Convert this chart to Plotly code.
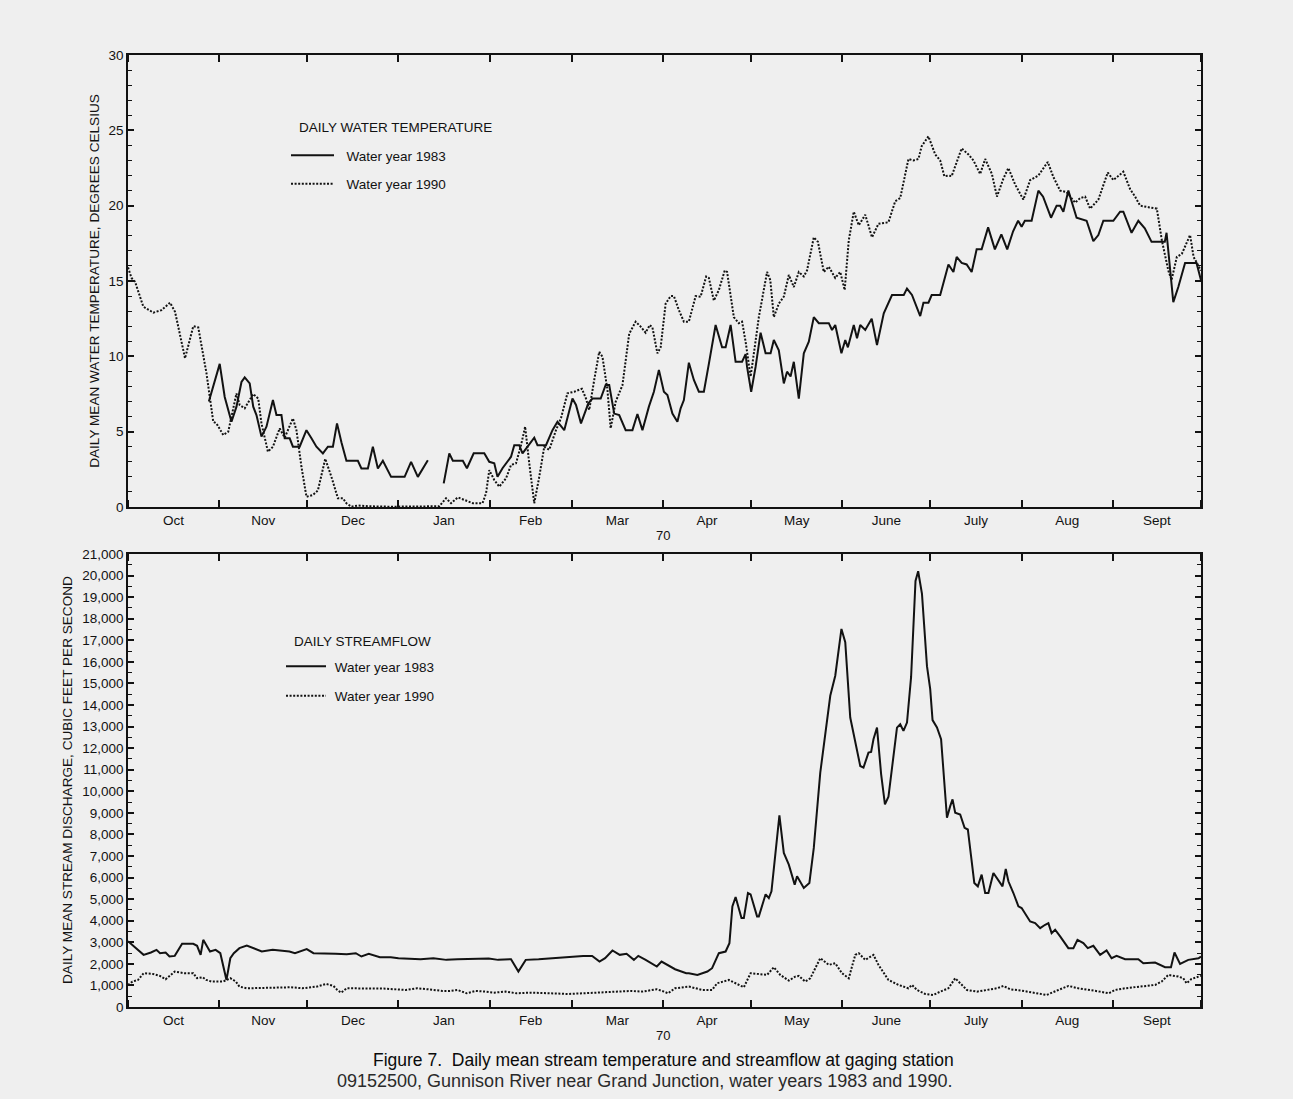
import plotly.graph_objects as go

# ---------------- data (day of water year, 0 = Oct 1) ----------------
month_names = ["Oct", "Nov", "Dec", "Jan", "Feb", "Mar", "Apr", "May", "June", "July", "Aug", "Sept"]
month_starts = [0, 31, 61, 92, 123, 151, 182, 212, 243, 273, 304, 335, 365]

temp1983_day = [27.5, 31.2, 32.9, 35.2, 36.9, 38.6, 39.7, 41.4, 42.6, 43.7, 45.4, 47.1, 49.3, 50.5, 52.2, 53.3, 55.0,
                56.1, 58.4, 60.7, 62.4, 64.1, 66.3, 68.0, 69.7, 71.1, 72.6, 74.3, 78.2, 79.4, 81.6, 83.3, 85.0, 86.7,
                89.5, 94.1, 96.3, 98.6, 102.0, 104.5,
                107.4, 109.3, 110.5, 113.9, 115.3, 117.6, 121.2, 122.9, 124.6, 125.7, 127.4, 129.1, 130.3, 131.4,
                133.1, 134.2, 135.9, 138.2, 139.3, 142.2, 144.4, 146.1, 148.4, 151.2, 152.4, 154.1, 156.6, 158.0,
                160.8, 162.5, 163.7, 165.4, 167.1, 169.3, 171.6, 173.3, 175.0, 177.2, 178.9, 180.6, 182.3, 183.5,
                185.2, 186.9, 188.0, 189.1, 190.8, 192.5, 194.2, 195.9, 197.6, 199.9, 202.1, 203.3, 205.0, 206.7,
                208.9, 210.1, 210.6, 212.0, 213.5, 215.2, 216.9, 218.6, 219.7, 221.4, 223.1, 224.2, 225.4, 226.5,
                228.2, 229.9, 231.6, 233.3, 235.0, 238.4, 239.5, 240.6, 242.7, 244.0, 244.9, 246.9, 248.0, 249.1,
                250.8, 253.0, 254.8, 257.1, 259.9, 263.9, 265.0, 266.7, 269.5, 270.6, 272.3, 273.4, 276.3, 279.1,
                280.8, 281.9, 283.6, 285.3, 287.0, 288.7, 290.4, 292.6, 294.9, 297.1, 299.1, 301.1, 302.8, 304.0,
                305.1, 307.4, 309.7, 311.3, 314.0, 315.9, 317.1, 318.2, 319.9, 322.7, 326.1, 328.4, 330.1, 331.8,
                335.2, 337.5, 338.6, 341.4, 343.7, 345.9, 348.2, 352.7, 353.3, 355.6, 357.3, 359.6, 363.5, 365.0]
temp1983_val = [7.0, 9.5, 7.3, 5.66, 6.66, 8.3, 8.6, 8.2, 6.66, 6.1, 4.67, 5.33, 7.1, 6.1, 6.1, 4.56, 4.56,
                4.0, 4.0, 5.1, 4.56, 4.0, 3.56, 4.0, 4.0, 5.55, 4.3, 3.07, 3.07, 2.56, 2.56, 4.0, 2.56, 3.07,
                2.0, 2.0, 3.0, 2.0, 3.1, None,
                1.57, 3.56, 3.07, 3.07, 2.57, 3.56, 3.56, 3.0, 2.9, 2.0, 2.57, 3.0, 3.34, 4.1,
                4.1, 3.56, 4.0, 4.6, 4.1, 4.1, 5.1, 5.66, 5.1, 7.2, 6.77, 5.55, 6.88, 7.2,
                7.2, 8.1, 8.1, 6.2, 6.1, 5.1, 5.1, 6.17, 5.1, 6.66, 7.65, 9.1, 7.65, 7.43,
                6.2, 5.66, 6.55, 7.1, 9.58, 8.43, 7.65, 7.65, 9.5, 12.08, 10.6, 10.6, 12.08, 9.64,
                9.64, 10.15, 9.3, 7.65, 9.3, 11.57, 10.2, 10.2, 11.08, 10.4, 8.2, 8.98, 8.66, 9.64,
                7.2, 10.2, 10.97, 12.6, 12.2, 12.2, 11.75, 12.08, 10.2, 11.08, 10.6, 12.08, 11.2, 12.08,
                11.75, 12.5, 10.75, 12.85, 14.07, 14.07, 14.5, 14.07, 12.67, 13.56, 13.56, 14.07, 14.07, 16.1,
                15.6, 16.6, 16.2, 16.1, 15.6, 17.1, 17.1, 18.56, 17.1, 18.1, 17.1, 18.3, 19.0, 18.6,
                19.0, 19.0, 21.0, 20.6, 19.2, 20.0, 20.0, 19.6, 21.0, 19.2, 19.0, 17.65, 18.05, 19.0,
                19.0, 19.6, 19.6, 18.2, 19.0, 18.5, 17.6, 17.6, 18.2, 13.6, 14.6, 16.2, 16.2, 15.06]

temp1990_day = [0, 1.2, 2.4, 5.2, 8.6, 11.4, 14.3, 16.0, 19.4, 22.2, 23.9, 26.7, 29.0, 30.1, 32.4, 34.1, 36.9, 38.0,
                39.7, 42.6, 44.3, 45.4, 47.6, 49.3, 51.6, 53.3, 56.1, 57.3, 59.0, 60.7, 62.9, 64.6, 67.1, 69.2,
                71.4, 73.1, 74.3, 76.0, 78.2, 81.6, 89.5, 105.9, 108.2, 109.9, 112.2, 115.0, 117.3, 120.6, 121.8,
                122.9, 124.6, 126.3, 128.6, 130.3, 132.0, 133.7, 135.1, 136.5, 138.2, 139.9, 141.6, 143.3, 145.6,
                147.3, 149.5, 151.8, 154.4, 155.8, 156.9, 158.6, 160.3, 161.4, 163.1, 164.2, 165.9, 168.2, 170.5,
                172.7, 174.4, 176.1, 177.5, 178.4, 180.1, 181.2, 182.9, 184.6, 185.7, 187.4, 189.1, 190.8, 193.1,
                194.8, 196.7, 197.6, 199.3, 201.0, 203.0, 203.8, 206.1, 207.8, 208.9, 210.1, 211.8, 213.2, 214.6,
                217.4, 218.5, 219.7, 221.4, 223.1, 224.8, 226.5, 228.2, 229.9, 231.0, 233.3, 234.7, 236.7, 238.4,
                240.6, 242.3, 243.8, 245.2, 246.9, 248.6, 250.8, 253.1, 255.3, 258.7, 261.0, 262.7, 265.5, 267.2,
                268.9, 270.0, 272.3, 274.6, 276.3, 277.7, 279.1, 280.2, 283.6, 285.9, 287.6, 289.9, 291.6, 293.9,
                295.6, 297.8, 299.5, 301.8, 304.6, 306.9, 309.7, 312.9, 314.8, 317.1, 319.3, 322.2, 323.9, 325.6,
                327.3, 330.1, 333.3, 335.2, 338.6, 340.9, 342.6, 344.3, 347.1, 350.0, 351.7, 353.9, 355.0, 356.8,
                358.5, 360.2, 361.3, 362.5, 364.2, 365.0]
temp1990_val = [15.9, 15.2, 14.95, 13.3, 12.9, 13.07, 13.56, 12.96, 9.87, 12.0, 11.92, 8.87, 5.66, 5.55, 4.78, 5.0,
                7.54, 6.77, 6.55, 7.5, 7.2, 5.55, 3.67, 4.0, 5.22, 4.6, 5.88, 5.1, 2.67, 0.68, 0.8, 1.1, 3.2, 2.0,
                0.58, 0.58, 0.25, 0.02, 0.1, 0.05, 0.02, 0.05, 0.58, 0.25, 0.64, 0.42, 0.25, 0.25, 0.91,
                2.45, 1.79, 1.35, 1.9, 2.79, 2.9, 4.1, 5.33, 2.9, 0.25, 2.0, 4.0, 3.8, 5.1,
                5.9, 7.55, 7.65, 7.85, 7.2, 6.44, 8.43, 10.3, 9.97, 7.76, 5.22, 6.99, 8.08, 11.5,
                12.3, 11.97, 11.57, 12.08, 11.92, 10.2, 10.6, 13.5, 14.0, 14.0, 13.07, 12.3, 12.3, 14.0,
                13.96, 15.3, 15.2, 13.7, 14.4, 15.7, 15.6, 12.6, 12.2, 12.3, 10.97, 8.65, 10.6, 12.6,
                15.6, 15.06, 12.6, 13.5, 13.96, 15.4, 14.6, 15.6, 15.3, 15.7, 17.9, 17.6, 15.6, 15.95,
                15.2, 15.6, 14.4, 17.7, 19.6, 18.7, 19.4, 17.9, 18.8, 18.9, 20.3, 20.5, 23.1, 23.0,
                23.1, 23.95, 24.6, 23.4, 23.0, 21.96, 22.0, 21.96, 23.8, 23.4, 23.0, 22.1, 23.1, 22.1,
                20.6, 21.8, 22.5, 21.4, 20.4, 21.7, 22.0, 22.9, 21.9, 21.0, 20.9, 20.2, 20.5, 20.6,
                19.8, 20.4, 22.2, 21.7, 22.25, 21.1, 20.6, 20.0, 19.9, 19.8, 17.7, 15.7, 15.06, 16.6,
                16.8, 17.6, 18.05, 16.6, 15.95, 15.7]

flow1983_day = [0, 1.5, 5.3, 7.8, 9.7, 10.9, 12.8, 14.1, 15.9, 18.4, 22.2, 23.5, 24.7, 25.6, 27.9, 29.8, 31.4, 33.5,
                34.8, 36.0, 37.9, 40.4, 43.0, 45.5, 49.2, 51.7, 54.9, 56.8, 59.3, 60.8, 63.1, 66.8, 70.6, 74.4,
                77.5, 79.4, 81.9, 85.7, 89.4, 92.0, 99.5, 103.9, 108.3, 112.1, 118.3, 122.7, 125.9, 130.3, 132.8,
                135.3, 139.7, 144.7, 149.7, 154.8, 157.9, 160.4, 162.3, 164.8, 167.3, 169.6, 172.1, 173.6, 176.1,
                179.9, 181.5, 186.1, 189.9, 190.8, 193.7, 197.1, 198.7, 201.0, 203.3, 204.6, 205.6, 206.7, 208.7,
                209.5, 210.9, 211.8, 214.0, 214.6, 216.9, 218.0, 218.9, 220.3, 221.6, 223.1, 224.8, 226.8, 227.6,
                229.9, 231.8, 233.3, 235.5, 238.9, 240.6, 242.7, 244.0, 245.7, 249.1, 250.2, 251.9, 252.8, 253.6,
                254.8, 256.2, 257.5, 258.7, 261.6, 262.7, 263.8, 265.0, 266.4, 267.9, 268.8, 270.1, 271.8, 272.9,
                273.7, 275.2, 276.6, 277.4, 278.6, 279.7, 280.5, 281.4, 283.1, 284.6, 285.7, 286.8, 287.9, 289.1,
                290.4, 291.6, 292.7, 294.4, 295.9, 297.5, 298.6, 299.5, 301.2, 302.9, 304.0, 306.9, 308.6, 310.3,
                312.0, 313.1, 314.2, 315.4, 317.1, 319.9, 321.6, 323.0, 325.0, 326.5, 328.4, 330.7, 332.9, 334.6,
                336.3, 339.2, 343.7, 345.4, 349.4, 352.8, 354.8, 356.0, 357.9, 360.7, 364.2, 365.0]
flow1983_val = [3050, 2882, 2417, 2526, 2650, 2495, 2526, 2340, 2370, 2929, 2929, 2836, 2417, 3115, 2572, 2650, 2495, 1255,
                2262, 2495, 2727, 2852, 2727, 2572, 2650, 2620, 2572, 2495, 2620, 2681, 2495, 2495, 2464, 2448,
                2495, 2340, 2464, 2309, 2309, 2262, 2216, 2262, 2185, 2216, 2216, 2247, 2185, 2216, 1643,
                2185, 2216, 2262, 2340, 2370, 2370, 2107, 2262, 2620, 2417, 2464, 2185, 2370, 2185,
                1875, 2107, 1751, 1565, 1565, 1488, 1643, 1798, 2495, 2572, 2960, 4665, 5098, 4122,
                4122, 5284, 5223, 4200, 4200, 5223, 5052, 5362, 7299, 8880, 7144, 6601, 5672, 6059,
                5517, 5749, 7376, 10863, 14427, 15358, 17527, 16907, 13420, 11173, 11095, 11793, 11823, 12413,
                12955, 10800, 9391, 9750, 12950, 13110, 12800, 13188, 15300, 19750, 20200, 19150, 15800, 14737,
                13300, 12955, 12413, 10863, 8771, 9313, 9623, 9003, 8926, 8306, 8229, 6989, 5749, 5594,
                6137, 5284, 5284, 6214, 5904, 5594, 6400, 5827, 5284, 4665, 4587, 3967, 3890, 3658,
                3812, 3890, 3425, 3580, 3270, 2727, 2727, 3115, 2960, 2727, 2836, 2417, 2619, 2262,
                2371, 2216, 2216, 2030, 2060, 1844, 1844, 2526, 1999, 2185, 2262, 2340]

flow1990_day = [0, 1.5, 3.4, 5.3, 8.4, 10.9, 12.8, 14.7, 15.9, 19.1, 22.2, 23.5, 25.4, 26.6, 28.5, 32.3, 34.8, 36.7,
                37.9, 40.4, 49.2, 55.5, 59.3, 64.3, 67.4, 69.9, 71.2, 72.5, 74.4, 80.7, 87.0, 94.5, 98.3, 102.0,
                107.0, 109.5, 112.1, 115.2, 118.3, 121.5, 124.6, 128.4, 132.1, 137.2, 143.5, 149.7, 154.8, 159.8,
                164.8, 171.1, 174.9, 179.9, 182.4, 183.7, 186.1, 188.7, 190.8, 195.4, 198.7, 200.4, 204.4, 206.7,
                209.5, 211.8, 215.7, 217.4, 219.7, 221.9, 224.8, 227.0, 228.2, 230.4, 232.1, 235.5, 238.4, 240.6,
                242.9, 245.2, 247.4, 248.6, 250.8, 253.6, 255.3, 258.7, 262.1, 265.5, 266.7, 268.4, 271.2, 274.0,
                276.3, 279.1, 281.4, 283.1, 285.4, 288.8, 292.7, 295.6, 297.8, 300.1, 304.0, 308.6, 312.5, 316.5,
                319.9, 323.3, 327.9, 330.7, 333.6, 335.8, 339.2, 343.7, 349.4, 351.6, 353.9, 357.3, 359.0, 360.1,
                361.8, 364.2, 365.0]
flow1990_val = [1023, 1178, 1255, 1565, 1534, 1441, 1286, 1488, 1643, 1565, 1565, 1333, 1380, 1255, 1178, 1178, 1333, 1178,
                946, 868, 914, 914, 868, 946, 1069, 976, 790, 666, 868, 868, 853, 790, 868, 822,
                744, 744, 790, 635, 744, 713, 666, 713, 635, 666, 635, 604, 635, 666,
                713, 744, 713, 822, 713, 635, 868, 914, 946, 790, 790, 1100, 1255, 1100,
                914, 1565, 1488, 1488, 1844, 1488, 1224, 1410, 1441, 1178, 1333, 2262, 1953, 2030,
                1565, 1333, 2417, 2495, 2185, 2417, 1953, 1255, 1023, 868, 1023, 790, 604, 558,
                713, 868, 1333, 1100, 790, 713, 822, 868, 976, 822, 759, 635, 558, 790,
                976, 868, 790, 713, 635, 790, 868, 946, 1023, 1178, 1488, 1410, 1333, 1100,
                1300, 1410, 1450]

# ---------------- styling ----------------
BG = "#efefef"
INK = "#121212"
FONT = "Liberation Sans, Arial, Helvetica, sans-serif"
NARROW = "Liberation Sans Narrow, Arial Narrow, Liberation Sans, sans-serif"
DOT = "2px,1.6px"
TICKFONT = dict(family=FONT, size=13.5, color=INK)
NB = "\u00a0"

month_mid = [(month_starts[i] + month_starts[i + 1]) / 2 for i in range(12)]

fig = go.Figure()

fig.add_trace(go.Scatter(x=temp1983_day, y=temp1983_val, mode="lines", name=NB * 2 + "Water year 1983",
                         line=dict(color=INK, width=2), connectgaps=False,
                         xaxis="x", yaxis="y", legend="legend", legendgroup="a"))
fig.add_trace(go.Scatter(x=temp1990_day, y=temp1990_val, mode="lines", name=NB * 2 + "Water year 1990",
                         line=dict(color=INK, width=2, dash=DOT),
                         xaxis="x", yaxis="y", legend="legend", legendgroup="b"))
fig.add_trace(go.Scatter(x=flow1983_day, y=flow1983_val, mode="lines", name=NB + "Water year 1983",
                         line=dict(color=INK, width=2),
                         xaxis="x2", yaxis="y2", legend="legend2", legendgroup="c"))
fig.add_trace(go.Scatter(x=flow1990_day, y=flow1990_val, mode="lines", name=NB + "Water year 1990",
                         line=dict(color=INK, width=2, dash=DOT),
                         xaxis="x2", yaxis="y2", legend="legend2", legendgroup="d"))


def xaxis_cfg(anchor):
    return dict(
        domain=[0.099, 0.9288], range=[0, 365], anchor=anchor, automargin=False,
        tickmode="array", tickvals=month_mid, ticktext=month_names, ticks="",
        tickfont=TICKFONT,
        showline=True, linecolor=INK, linewidth=1.6, mirror="ticks",
        showgrid=False, zeroline=False,
        minor=dict(tickmode="array", tickvals=month_starts, ticks="inside", ticklen=7,
                   tickwidth=1.5, tickcolor=INK, showgrid=False),
    )


def py(px):
    return 1 - px / 1099


fig.update_layout(
    width=1293, height=1099,
    margin=dict(l=0, r=0, t=0, b=0, pad=0, autoexpand=False),
    paper_bgcolor=BG, plot_bgcolor=BG,
    font=dict(family=FONT, color=INK, size=12),
    xaxis=xaxis_cfg("y"),
    xaxis2=xaxis_cfg("y2"),
    yaxis=dict(
        domain=[py(507), py(55)], range=[0, 30], dtick=5, tick0=0, automargin=False,
        ticks="inside", ticklen=6, tickwidth=1.5, tickcolor=INK,
        showline=True, linecolor=INK, linewidth=1.6, mirror="ticks",
        showgrid=False, zeroline=False,
        tickfont=TICKFONT,
        minor=dict(dtick=1, ticks="inside", ticklen=4, tickwidth=1.2, tickcolor=INK, showgrid=False),
        title=dict(text="DAILY MEAN WATER TEMPERATURE, DEGREES CELSIUS",
                   font=dict(family=FONT, size=13.6, color=INK), standoff=6),
    ),
    yaxis2=dict(
        domain=[py(1007), py(554)], range=[0, 21000], dtick=1000, tick0=0, tickformat=",d", automargin=False,
        ticks="inside", ticklen=6, tickwidth=1.5, tickcolor=INK,
        showline=True, linecolor=INK, linewidth=1.6, mirror="ticks",
        showgrid=False, zeroline=False,
        tickfont=TICKFONT,
        minor=dict(dtick=500, ticks="inside", ticklen=4, tickwidth=1.2, tickcolor=INK, showgrid=False),
    ),
    legend=dict(x=286 / 1293, y=py(140), xanchor="left", yanchor="top", bgcolor="rgba(0,0,0,0)",
                font=dict(family=FONT, size=13.5, color=INK), tracegroupgap=8, itemwidth=43),
    legend2=dict(x=281 / 1293, y=py(651), xanchor="left", yanchor="top", bgcolor="rgba(0,0,0,0)",
                 font=dict(family=FONT, size=13.5, color=INK), tracegroupgap=9, itemwidth=40),
    showlegend=True,
    annotations=[
        dict(text="DAILY MEAN STREAM DISCHARGE, CUBIC FEET PER SECOND", textangle=-90,
             x=67 / 1293, y=py(780), xref="paper", yref="paper", xanchor="center", yanchor="middle",
             showarrow=False, font=dict(family=FONT, size=13.6, color=INK)),
        dict(text="DAILY WATER TEMPERATURE", x=297 / 1293, y=py(128), xref="paper", yref="paper",
             xanchor="left", yanchor="middle", showarrow=False, font=dict(family=FONT, size=13.5, color=INK)),
        dict(text="DAILY STREAMFLOW", x=292 / 1293, y=py(641), xref="paper", yref="paper",
             xanchor="left", yanchor="middle", showarrow=False, font=dict(family=FONT, size=13.5, color=INK)),
        dict(text="70", x=663 / 1293, y=py(535), xref="paper", yref="paper", showarrow=False,
             xanchor="center", yanchor="middle", font=dict(family=FONT, size=13, color=INK)),
        dict(text="70", x=663 / 1293, y=py(1035), xref="paper", yref="paper", showarrow=False,
             xanchor="center", yanchor="middle", font=dict(family=FONT, size=13, color=INK)),
        dict(text="Figure 7.  Daily mean stream temperature and streamflow at gaging station",
             x=663 / 1293, y=py(1060), xref="paper", yref="paper", showarrow=False,
             xanchor="center", yanchor="middle", font=dict(family=NARROW, size=17.5, color="#0a0a0a")),
        dict(text="09152500, Gunnison River near Grand Junction, water years 1983 and 1990.",
             x=644 / 1293, y=py(1081), xref="paper", yref="paper", showarrow=False,
             xanchor="center", yanchor="middle", font=dict(family=NARROW, size=18, color="#2a2a2a")),
    ],
)

fig.write_html("out.html", config={"displayModeBar": False})
